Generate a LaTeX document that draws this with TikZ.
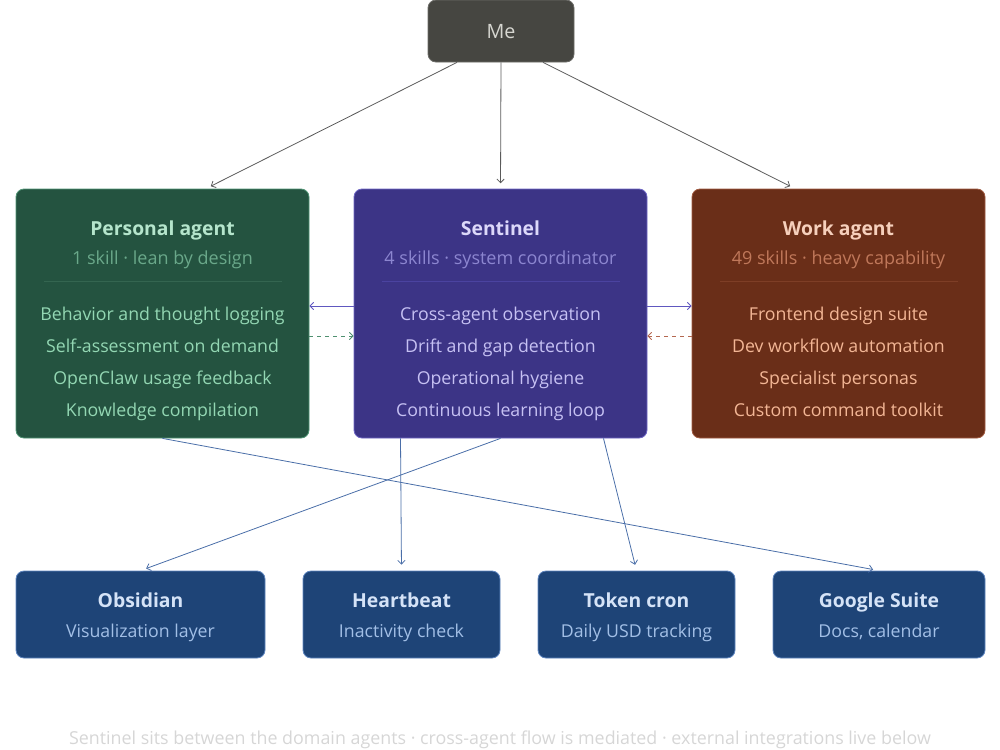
\documentclass[tikz,border=0pt]{standalone}
\usepackage{fontspec}
\setmainfont{Open Sans}
\usetikzlibrary{calc, arrows.meta}
\usepackage{xcolor}

% card colours
\definecolor{pfill}{HTML}{245340}
\definecolor{pline}{HTML}{4F9474}
\definecolor{ptitle}{HTML}{B5E5CC}
\definecolor{psub}{HTML}{6AA88A}
\definecolor{pitem}{HTML}{93D7B3}
\definecolor{pdiv}{HTML}{346550}
\definecolor{sfill}{HTML}{3C3486}
\definecolor{sline}{HTML}{6E66C4}
\definecolor{stitle}{HTML}{DCD8FA}
\definecolor{ssub}{HTML}{8C86D0}
\definecolor{sitem}{HTML}{C6C1F3}
\definecolor{sdiv}{HTML}{4B43A0}
\definecolor{wfill}{HTML}{6A2E18}
\definecolor{wline}{HTML}{A05A40}
\definecolor{wtitle}{HTML}{F6D0BC}
\definecolor{wsub}{HTML}{C0785A}
\definecolor{witem}{HTML}{F3B695}
\definecolor{wdiv}{HTML}{7E3E26}
\definecolor{bfill}{HTML}{1E4477}
\definecolor{bline}{HTML}{5F86C0}
\definecolor{btitle}{HTML}{D5E3F7}
\definecolor{bsub}{HTML}{A2BFE6}
\definecolor{mefill}{HTML}{464641}
\definecolor{metext}{HTML}{D6D6D0}
\definecolor{grayedge}{HTML}{5A5A5A}
\definecolor{sedge}{HTML}{6058C0}
\definecolor{pedge}{HTML}{4F9070}
\definecolor{wedge}{HTML}{B46850}
\definecolor{bedge}{HTML}{4A6EA8}
\definecolor{foottext}{HTML}{D6D6D6}

\begin{document}
\begin{tikzpicture}[x=0.75pt, y=-0.75pt,
    card/.style={rounded corners=6pt, line width=0.6pt, inner sep=0pt},
    label/.style={inner sep=0pt, text height=0.72em, text depth=0pt, yshift=-2.2pt},
    title/.style={label, font=\fontsize{14.5}{17}\selectfont\bfseries},
    sub/.style={label, font=\fontsize{13.5}{16}\selectfont},
    item/.style={label, font=\fontsize{13.3}{16}\selectfont},
    edge/.style={line width=0.6pt, -{Straight Barb[length=2.8pt, width=5.5pt]}},
    foot/.style={label, font=\fontsize{13.4}{16}\selectfont, text=foottext}
]
    \useasboundingbox (0,0) rectangle (1000,750);

    % Me
    \node[card, fill=mefill, draw=mefill!80!white, minimum width=109.5pt, minimum height=46.5pt] (me) at (501,31) {};
    \node[label, font=\fontsize{14.8}{17}\selectfont, text=metext] (me-t) at (501,31) {Me};

    % Agent cards
    \foreach \k/\n/\cx/\t/\s in {p/pers/162.5/Personal agent/1 skill · lean by design,
                               s/sent/500.5/Sentinel/4 skills · system coordinator,
                               w/work/838.5/Work agent/49 skills · heavy capability} {
        \node[card, fill=\k fill, draw=\k line, minimum width=219.75pt, minimum height=186.75pt] (\n) at (\cx,313.5) {};
        \node[title, text=\k title] (\n-t) at (\cx,228) {\t};
        \node[sub, text=\k sub] (\n-s) at (\cx,257) {\s};
        \draw[\k div, line width=0.6pt] (\cx-119,281) -- (\cx+119,281);
    }
    \foreach \i/\l in {1/Behavior and thought logging, 2/Self-assessment on demand,
                       3/OpenClaw usage feedback, 4/Knowledge compilation} {
        \node[item, text=pitem] (pers-\i) at (162.5,{313+32*(\i-1)}) {\l};
    }
    \foreach \i/\l in {1/Cross-agent observation, 2/Drift and gap detection,
                       3/Operational hygiene, 4/Continuous learning loop} {
        \node[item, text=sitem] (sent-\i) at (500.5,{313+32*(\i-1)}) {\l};
    }
    \foreach \i/\l in {1/Frontend design suite, 2/Dev workflow automation,
                       3/Specialist personas, 4/Custom command toolkit} {
        \node[item, text=witem] (work-\i) at (838.5,{313+32*(\i-1)}) {\l};
    }

    % Integrations
    \foreach \n/\cx/\w/\t/\s in {obs/140.5/186.75/Obsidian/Visualization layer,
                                heart/401.5/147.75/Heartbeat/Inactivity check,
                                token/636.5/147.75/Token cron/Daily USD tracking,
                                google/879/159/Google Suite/{Docs, calendar}} {
        \node[card, fill=bfill, draw=bline, minimum width=\w pt, minimum height=65.25pt] (\n) at (\cx,614.5) {};
        \node[title, text=btitle] (\n-t) at (\cx,600) {\t};
        \node[item, text=bsub] (\n-s) at (\cx,630) {\s};
    }

    % Edges from Me
    \draw[edge, grayedge, shorten >=4pt] ($(me.south)+(-44,0)$) -- ($(pers.north)+(43.5,0)$);
    \draw[edge, grayedge, shorten >=4pt] (me.south) -- (sent.north);
    \draw[edge, grayedge, shorten >=4pt] ($(me.south)+(42,0)$) -- ($(work.north)+(-43.5,0)$);
    % Edges between the agents
    \draw[edge, sedge] ($(sent.west)+(0,-7.5)$) -- ($(pers.east)+(0,-7.5)$);
    \draw[edge, pedge, dashed, dash pattern=on 3pt off 3pt] ($(pers.east)+(0,22.5)$) -- ($(sent.west)+(0,22.5)$);
    \draw[edge, sedge] ($(sent.east)+(0,-7.5)$) -- ($(work.west)+(0,-7.5)$);
    \draw[edge, wedge, dashed, dash pattern=on 3pt off 3pt] ($(work.west)+(0,22.5)$) -- ($(sent.east)+(0,22.5)$);
    % Edges to the integrations
    \draw[edge, bedge, shorten >=4.5pt] (pers.south) -- (google.north);
    \draw[edge, bedge, shorten >=4.5pt] (sent.south) -- (obs.north);
    \draw[edge, bedge, shorten >=4.5pt] ($(sent.south)+(-100,0)$) -- (heart.north);
    \draw[edge, bedge, shorten >=4.5pt] ($(sent.south)+(103,0)$) -- (token.north);

    % Footer
    \node[foot] (note) at (500,737) {Sentinel sits between the domain agents · cross-agent flow is mediated · external integrations live below};
\end{tikzpicture}
\end{document}
